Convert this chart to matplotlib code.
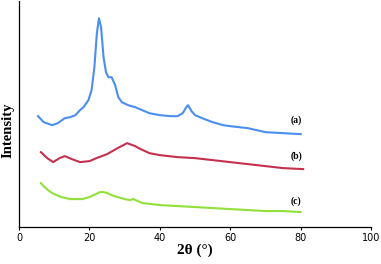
import matplotlib
matplotlib.use("Agg")
import matplotlib.pyplot as plt

# 2-theta positions and intensities (arbitrary units)
two_theta_a = [5.4, 7, 9.4, 11, 13, 14.5, 16, 17.3, 18.3, 19.7, 20.6, 21.4, 22.1, 22.7, 23.3,
               24, 24.7, 25.4, 26.3, 27.3, 28.2, 29.2, 31, 33, 35, 37, 40, 43, 45, 46.5,
               47.5, 48, 49, 50, 52, 55, 58, 60, 65, 70, 75, 80]
intensity_a = [111, 105, 102, 104, 109, 110, 112, 117, 120, 127, 137, 160, 194, 209, 200,
               170, 155, 150, 150, 142, 130, 125, 122, 120, 117, 114, 112, 111, 111, 114,
               120, 122, 116, 112, 109, 105, 102, 101, 99, 95, 94, 93]

two_theta_b = [6.2, 8, 9.7, 11.5, 13, 15, 17.3, 20, 22, 25, 28, 30.7, 33, 34, 37, 40, 45,
               50, 55, 60, 65, 70, 75, 80.7]
intensity_b = [75, 69, 65, 69, 71, 68, 65, 66, 69, 73, 79, 84, 81, 79, 74, 72, 70, 69, 67,
               65, 63, 61, 59, 58]

two_theta_c = [6.2, 7, 8.2, 9, 10, 12, 14.5, 18, 20, 23, 24, 25, 27, 30, 31.5, 32.5, 35,
               40, 45, 50, 55, 60, 65, 70, 75, 80]
intensity_c = [44, 41, 37, 35, 33, 30, 28, 28, 30, 35, 35, 34, 31, 28, 27, 28, 24, 22, 21,
               20, 19, 18, 17, 16, 16, 15]

labels = ["(a)", "(b)", "(c)"]
label_y = [107, 71, 26]

fig = plt.figure(figsize=(3.81, 2.64), dpi=100)
ax = fig.add_axes([0.05, 0.14, 0.924, 0.855])

ax.plot(two_theta_a, intensity_a, color="#4a8ff0", lw=1.5)
ax.plot(two_theta_b, intensity_b, color="#c4304e", lw=1.5)
ax.plot(two_theta_c, intensity_c, color="#92e03a", lw=1.5)

for lab, y in zip(labels, label_y):
    ax.text(78.7, y, lab, fontsize=7, fontweight="bold",
            family="Liberation Serif", ha="center", va="center")

ax.set_xlim(0, 100)
ax.set_ylim(0, 226)
ax.set_xticks(range(0, 101, 20))
ax.set_yticks([])
ax.tick_params(axis="x", labelsize=7, length=2, width=0.8, pad=2)
for s in ["top", "right"]:
    ax.spines[s].set_visible(False)
for s in ["left", "bottom"]:
    ax.spines[s].set_linewidth(0.9)

ax.set_xlabel("2θ (°)", fontsize=11, fontweight="bold", family="Liberation Serif", labelpad=1)
ax.set_ylabel("Intensity", fontsize=10.5, fontweight="bold", family="Liberation Serif")
ax.yaxis.set_label_coords(-0.012, 0.43)

fig.savefig("out.png", dpi=100)
